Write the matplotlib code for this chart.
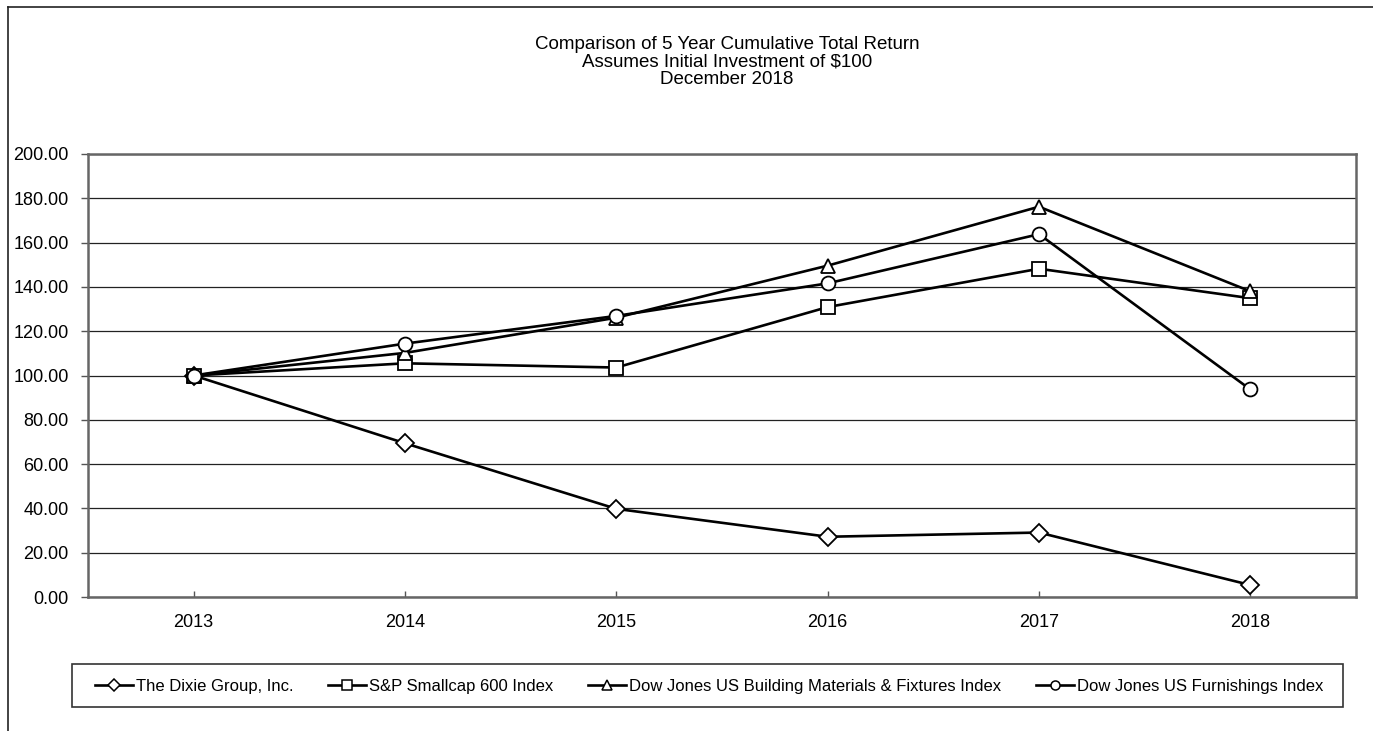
import matplotlib
matplotlib.use("Agg")
import matplotlib.pyplot as plt
from matplotlib.lines import Line2D
from matplotlib.patches import Rectangle

plt.rcParams["font.family"] = ["Liberation Sans", "DejaVu Sans"]

years = ["2013", "2014", "2015", "2016", "2017", "2018"]
dixie = [100.0, 69.4, 39.8, 27.2, 29.1, 5.4]
sp600 = [100.0, 105.5, 103.6, 130.9, 148.2, 134.9]
building = [100.0, 110.2, 126.1, 149.6, 176.2, 138.0]
furnishings = [100.0, 114.4, 126.9, 141.6, 163.8, 93.7]

labels = ["The Dixie Group, Inc.", "S&P Smallcap 600 Index",
          "Dow Jones US Building Materials & Fixtures Index",
          "Dow Jones US Furnishings Index"]
markers = ["D", "s", "^", "o"]
sizes = [9, 10, 10, 10]

W, H = 1373, 731
fig = plt.figure(figsize=(W / 100, H / 100), dpi=100)
ax = fig.add_axes([88 / W, 1 - 597 / H, (1356 - 88) / W, (597 - 154) / H])

x = list(range(len(years)))
for vals, m, ms in zip([dixie, sp600, building, furnishings], markers, sizes):
    ax.plot(x, vals, color="black", lw=1.9, marker=m, ms=ms,
            mfc="white", mec="black", mew=1.3, zorder=3)

ax.set_xlim(-0.5, 5.5)
ax.set_ylim(0, 200)
ax.set_yticks(range(0, 201, 20))
ax.set_yticklabels(["%.2f" % v for v in range(0, 201, 20)], fontsize=13)
ax.set_xticks(x)
ax.set_xticklabels(years, fontsize=13)
ax.tick_params(axis="y", direction="out", length=5, width=1, pad=9, color="#555555")
ax.tick_params(axis="x", direction="in", length=4, width=1, pad=12, color="#555555")
ax.yaxis.grid(True, color="#222222", lw=0.9)
ax.set_axisbelow(True)
for s in ax.spines.values():
    s.set_color("#666666")
    s.set_linewidth(1.8)

fig.text(727 / W, 1 - 62 / H,
         "Comparison of 5 Year Cumulative Total Return\n"
         "Assumes Initial Investment of $100\nDecember 2018",
         ha="center", va="center", fontsize=13.5, linespacing=1.02)

handles = [Line2D([], [], color="black", lw=1.9, marker=m, ms=6.5,
                  mfc="white", mec="black", mew=1.1) for m in markers]
fig.legend(handles, labels, loc="center", ncol=4, frameon=False,
           bbox_to_anchor=(709 / W, 1 - 686 / H), fontsize=12,
           handlelength=2.3, handletextpad=0.15, columnspacing=2.1)
fig.add_artist(Rectangle((72 / W, 1 - 707 / H), (1343 - 72) / W, 43 / H,
                         transform=fig.transFigure, fill=False,
                         ec="#333333", lw=1.2))

# outer frame (left and top edges only)
fig.add_artist(Line2D([8 / W, 8 / W], [0, 1 - 7 / H], transform=fig.transFigure,
                      color="#222222", lw=1.2))
fig.add_artist(Line2D([8 / W, 1], [1 - 7 / H, 1 - 7 / H], transform=fig.transFigure,
                      color="#222222", lw=1.2))

fig.savefig("out.png", dpi=100)
